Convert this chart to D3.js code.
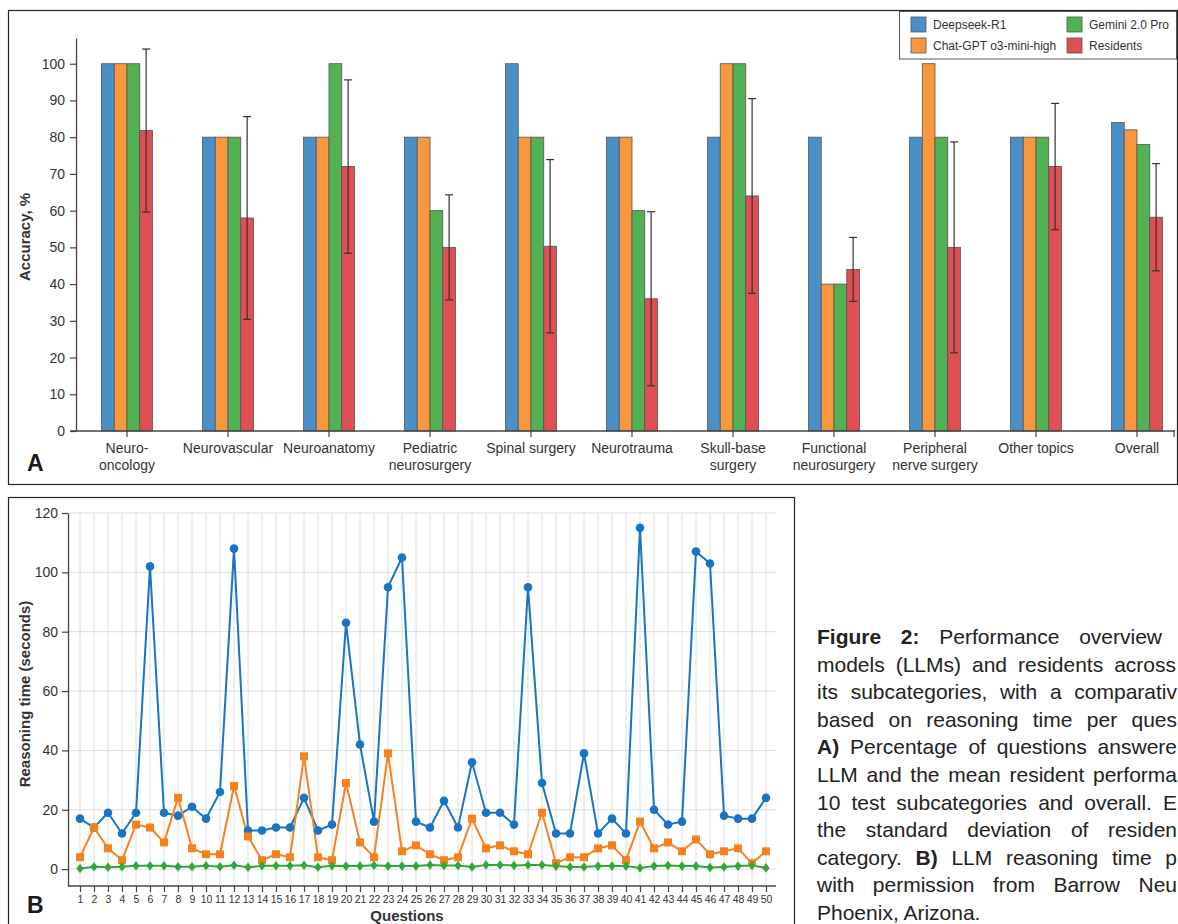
<!DOCTYPE html>
<html>
<head>
<meta charset="utf-8">
<script src="https://cdn.jsdelivr.net/npm/d3@7"></script>
<style>
  html, body { margin: 0; padding: 0; background: #fff; }
  svg { display: block; font-family: "Liberation Sans", Arial, sans-serif; }
</style>
</head>
<body>
<div id="chart"></div>
<script>
// ---- Panel A data ----
const categories = [
  ["Neuro-", "oncology"], ["Neurovascular"], ["Neuroanatomy"], ["Pediatric", "neurosurgery"],
  ["Spinal surgery"], ["Neurotrauma"], ["Skull-base", "surgery"], ["Functional", "neurosurgery"],
  ["Peripheral", "nerve surgery"], ["Other topics"], ["Overall"]
];
const seriesNames = ["Deepseek-R1", "Chat-GPT o3-mini-high", "Gemini 2.0 Pro", "Residents"];
const deepseekAcc = [100, 80, 80, 80, 100, 80, 80, 80, 80, 80, 84];
const chatgptAcc = [100, 80, 80, 80, 80, 80, 100, 40, 100, 80, 82];
const geminiAcc = [100, 80, 100, 60, 80, 60, 100, 40, 80, 80, 78];
const residentsAcc = [81.8, 58, 72, 50, 50.3, 36, 64, 44, 50, 72, 58.2];
const residentsSd = [22.2, 27.6, 23.6, 14.3, 23.6, 23.7, 26.5, 8.7, 28.7, 17.2, 14.6];
const accTicks = [0, 10, 20, 30, 40, 50, 60, 70, 80, 90, 100];

// ---- Panel B data ----
const questions = d3.range(1, 51);
const deepseekTime = [17, 14, 19, 12, 19, 102, 19, 18, 21, 17, 26, 108, 13, 13, 14, 14, 24, 13, 15, 83,
  42, 16, 95, 105, 16, 14, 23, 14, 36, 19, 19, 15, 95, 29, 12, 12, 39, 12, 17, 12,
  115, 20, 15, 16, 107, 103, 18, 17, 17, 24];
const chatgptTime = [4, 14, 7, 3, 15, 14, 9, 24, 7, 5, 5, 28, 11, 3, 5, 4, 38, 4, 3, 29,
  9, 4, 39, 6, 8, 5, 3, 4, 17, 7, 8, 6, 5, 19, 2, 4, 4, 7, 8, 3,
  16, 7, 9, 6, 10, 5, 6, 7, 2, 6];
const geminiTime = [0.2, 0.8, 0.6, 0.8, 1.1, 1.1, 1.1, 0.8, 0.8, 1.1, 0.8, 1.3, 0.6, 1.1, 1.1, 1.1, 1.3, 0.6, 1.1, 1.0,
  1.0, 1.3, 1.0, 1.0, 1.0, 1.4, 1.2, 1.2, 0.7, 1.4, 1.4, 1.2, 1.4, 1.4, 1.0, 0.7, 0.7, 1.0, 1.0, 1.0,
  0.4, 1.0, 1.2, 1.0, 1.0, 0.5, 0.7, 1.0, 1.2, 0.4];
const timeTicks = [0, 20, 40, 60, 80, 100, 120];

// caption as visible in the figure (cut at the page edge); "end" = right edge of the justified line
const captionLines = [
  { parts: [["Figure 2:", true], [" Performance overview", false]], end: 1162 },
  { parts: [["models (LLMs) and residents across", false]], end: 1176 },
  { parts: [["its subcategories, with a comparativ", false]], end: 1177 },
  { parts: [["based on reasoning time per ques", false]], end: 1177 },
  { parts: [["A)", true], [" Percentage of questions answere", false]], end: 1177 },
  { parts: [["LLM and the mean resident performa", false]], end: 1177 },
  { parts: [["10 test subcategories and overall. E", false]], end: 1177 },
  { parts: [["the standard deviation of residen", false]], end: 1177 },
  { parts: [["category. ", false], ["B)", true], [" LLM reasoning time p", false]], end: 1177 },
  { parts: [["with permission from Barrow Neu", false]], end: 1177 },
  { parts: [["Phoenix, Arizona.", false]], end: null }
];

const barColors = ["#4a8fc5", "#f7983f", "#52b153", "#e04f53"];
const lineColors = ["#1a74c4", "#f5821f", "#2ea83a"];
const textColor = "#333";

const W = 1178, H = 924;
const svg = d3.select("#chart").append("svg")
  .attr("width", W).attr("height", H)
  .attr("viewBox", `0 0 ${W} ${H}`);

// ================= Panel A =================
svg.append("rect")
  .attr("x", 8.5).attr("y", 10.5).attr("width", 1169).attr("height", 474)
  .attr("fill", "none").attr("stroke", "#222").attr("stroke-width", 1.2);

const aLeft = 76, aBottom = 431;
const yA = d3.scaleLinear().domain([0, 107]).range([aBottom, 38]);
const xA = d3.scaleBand().domain(d3.range(categories.length)).range([76.5, 1187.5]).padding(0);
const groupW = 51;
const xInner = d3.scaleBand().domain(d3.range(4)).range([-groupW / 2, groupW / 2]);

const seriesVals = [deepseekAcc, chatgptAcc, geminiAcc, residentsAcc];

// bars
const groups = svg.append("g").selectAll("g")
  .data(categories.map((c, i) => i))
  .join("g")
  .attr("transform", i => `translate(${xA(i) + xA.bandwidth() / 2},0)`);

groups.selectAll("rect")
  .data(i => seriesVals.map((s, k) => ({ k, v: s[i] })))
  .join("rect")
  .attr("x", d => xInner(d.k))
  .attr("width", xInner.bandwidth())
  .attr("y", d => yA(d.v))
  .attr("height", d => aBottom - yA(d.v))
  .attr("fill", d => barColors[d.k])
  .attr("stroke", "#555")
  .attr("stroke-width", 0.8);

// error bars
groups.each(function (i) {
  const g = d3.select(this);
  const cx = xInner(3) + xInner.bandwidth() / 2;
  const hi = yA(residentsAcc[i] + residentsSd[i]);
  const lo = yA(residentsAcc[i] - residentsSd[i]);
  g.append("line").attr("x1", cx).attr("x2", cx).attr("y1", hi).attr("y2", lo)
    .attr("stroke", "#333").attr("stroke-width", 1.2);
  [hi, lo].forEach(y => g.append("line")
    .attr("x1", cx - 4).attr("x2", cx + 4).attr("y1", y).attr("y2", y)
    .attr("stroke", "#333").attr("stroke-width", 1.2));
});

// y axis
const yAxisA = svg.append("g")
  .attr("transform", `translate(${aLeft},0)`)
  .call(d3.axisLeft(yA).tickValues(accTicks).tickSize(6).tickSizeOuter(0).tickPadding(5));
yAxisA.select(".domain").attr("stroke", "#444").attr("stroke-width", 1.3);
yAxisA.selectAll(".tick line").attr("stroke", "#444").attr("stroke-width", 1.2);
yAxisA.selectAll("text").attr("font-size", 14).attr("fill", textColor).attr("font-family", null);

// x axis
svg.append("line").attr("x1", 70).attr("x2", 1175).attr("y1", aBottom).attr("y2", aBottom)
  .attr("stroke", "#444").attr("stroke-width", 1.3);
svg.append("line").attr("x1", 1174).attr("x2", 1174).attr("y1", aBottom).attr("y2", aBottom + 6)
  .attr("stroke", "#444").attr("stroke-width", 1.2);
const xAxisA = svg.append("g")
  .attr("transform", `translate(0,${aBottom})`)
  .call(d3.axisBottom(xA).tickSize(6).tickFormat(""));
xAxisA.select(".domain").remove();
xAxisA.selectAll(".tick line").attr("stroke", "#444").attr("stroke-width", 1.2);

const catLabels = svg.append("g").selectAll("text")
  .data(categories)
  .join("text")
  .attr("x", (c, i) => xA(i) + xA.bandwidth() / 2)
  .attr("y", 453)
  .attr("text-anchor", "middle")
  .attr("font-size", 14)
  .attr("fill", textColor);
catLabels.each(function (c, i) {
  const t = d3.select(this);
  c.forEach((line, j) => t.append("tspan")
    .attr("x", xA(i) + xA.bandwidth() / 2)
    .attr("dy", j === 0 ? 0 : 16.5)
    .text(line));
});

svg.append("text")
  .attr("transform", "translate(30,237) rotate(-90)")
  .attr("text-anchor", "middle")
  .attr("font-size", 15).attr("font-weight", "bold").attr("fill", textColor)
  .text("Accuracy, %");

svg.append("text").attr("x", 27).attr("y", 471)
  .attr("font-size", 23).attr("font-weight", "bold").attr("fill", "#1a1a1a").text("A");

// legend
const legend = svg.append("g");
legend.append("rect").attr("x", 899.5).attr("y", 11.5).attr("width", 277).attr("height", 47.5)
  .attr("fill", "#fff").attr("stroke", "#555").attr("stroke-width", 1);
const legendPos = [[911, 17], [911, 38], [1067, 17], [1067, 38]];
seriesNames.forEach((name, k) => {
  const [lx, ly] = legendPos[k];
  legend.append("rect").attr("x", lx).attr("y", ly).attr("width", 15).attr("height", 15)
    .attr("fill", barColors[k]).attr("stroke", "#555").attr("stroke-width", 0.8);
  legend.append("text").attr("x", lx + 22).attr("y", ly + 12)
    .attr("font-size", 12).attr("fill", textColor).text(name);
});

// ================= Panel B =================
svg.append("rect")
  .attr("x", 8.5).attr("y", 497.5).attr("width", 786).attr("height", 440)
  .attr("fill", "none").attr("stroke", "#222").attr("stroke-width", 1.2);

const bLeft = 68, bRight = 776, bBottom = 886, bTop = 513;
const yB = d3.scaleLinear().domain([-5.7, 120]).range([bBottom, bTop]);
const xB = d3.scalePoint().domain(questions).range([80, 766]);

// gridlines
const grid = svg.append("g").attr("stroke", "#dedede").attr("stroke-width", 1);
grid.selectAll(".h").data(timeTicks).join("line")
  .attr("x1", bLeft).attr("x2", bRight)
  .attr("y1", d => yB(d)).attr("y2", d => yB(d));
grid.selectAll(".v").data(questions).join("line")
  .attr("x1", d => xB(d)).attr("x2", d => xB(d))
  .attr("y1", bTop).attr("y2", bBottom);

// axes
const yAxisB = svg.append("g")
  .attr("transform", `translate(${bLeft},0)`)
  .call(d3.axisLeft(yB).tickValues(timeTicks).tickSize(6).tickSizeOuter(0).tickPadding(4));
yAxisB.select(".domain").attr("stroke", "#444").attr("stroke-width", 1.3);
yAxisB.selectAll(".tick line").attr("stroke", "#444").attr("stroke-width", 1.2);
yAxisB.selectAll("text").attr("font-size", 14).attr("fill", textColor).attr("font-family", null);

svg.append("line").attr("x1", bLeft).attr("x2", bRight).attr("y1", bBottom).attr("y2", bBottom)
  .attr("stroke", "#444").attr("stroke-width", 1.3);
const xAxisB = svg.append("g")
  .attr("transform", `translate(0,${bBottom})`)
  .call(d3.axisBottom(xB).tickSize(6).tickPadding(4));
xAxisB.select(".domain").remove();
xAxisB.selectAll(".tick line").attr("stroke", "#444").attr("stroke-width", 1.2);
xAxisB.selectAll("text").attr("font-size", 10.5).attr("fill", textColor).attr("font-family", null);

// lines + markers
const lineGen = d3.line().x((d, i) => xB(questions[i])).y(d => yB(d));
const timeSeries = [deepseekTime, chatgptTime, geminiTime];
timeSeries.forEach((s, k) => {
  svg.append("path").datum(s)
    .attr("fill", "none").attr("stroke", lineColors[k]).attr("stroke-width", 2)
    .attr("stroke-linejoin", "round")
    .attr("d", lineGen);
});
svg.append("g").selectAll("circle").data(deepseekTime).join("circle")
  .attr("cx", (d, i) => xB(questions[i])).attr("cy", d => yB(d)).attr("r", 4.3)
  .attr("fill", lineColors[0]);
svg.append("g").selectAll("rect").data(chatgptTime).join("rect")
  .attr("x", (d, i) => xB(questions[i]) - 4).attr("y", d => yB(d) - 4)
  .attr("width", 8).attr("height", 8)
  .attr("fill", lineColors[1]);
svg.append("g").selectAll("path").data(geminiTime).join("path")
  .attr("transform", (d, i) => `translate(${xB(questions[i])},${yB(d)})`)
  .attr("d", "M0,-4.8L3.6,0L0,4.8L-3.6,0Z")
  .attr("fill", lineColors[2]);

svg.append("text")
  .attr("transform", "translate(30,694) rotate(-90)")
  .attr("text-anchor", "middle")
  .attr("font-size", 15).attr("font-weight", "bold").attr("fill", textColor)
  .text("Reasoning time (seconds)");

svg.append("text").attr("x", 407).attr("y", 921)
  .attr("text-anchor", "middle")
  .attr("font-size", 15).attr("font-weight", "bold").attr("fill", textColor)
  .text("Questions");

svg.append("text").attr("x", 27).attr("y", 913)
  .attr("font-size", 23).attr("font-weight", "bold").attr("fill", "#1a1a1a").text("B");

// ================= Caption =================
const capX = 817;
const caption = svg.append("g");
captionLines.forEach((ln, i) => {
  const t = caption.append("text")
    .attr("x", capX).attr("y", 644 + i * 27.6)
    .attr("font-size", 21).attr("fill", "#222");
  ln.parts.forEach(([txt, bold]) => t.append("tspan")
    .attr("font-weight", bold ? "bold" : null)
    .text(txt));
  if (ln.end) {
    // justify: spread the leftover width (or squeeze) over the spaces
    const natural = t.node().getComputedTextLength();
    const spaces = ln.parts.map(p => p[0]).join("").split(" ").length - 1;
    t.attr("word-spacing", (ln.end - capX - natural) / spaces);
  }
});
</script>
</body>
</html>
